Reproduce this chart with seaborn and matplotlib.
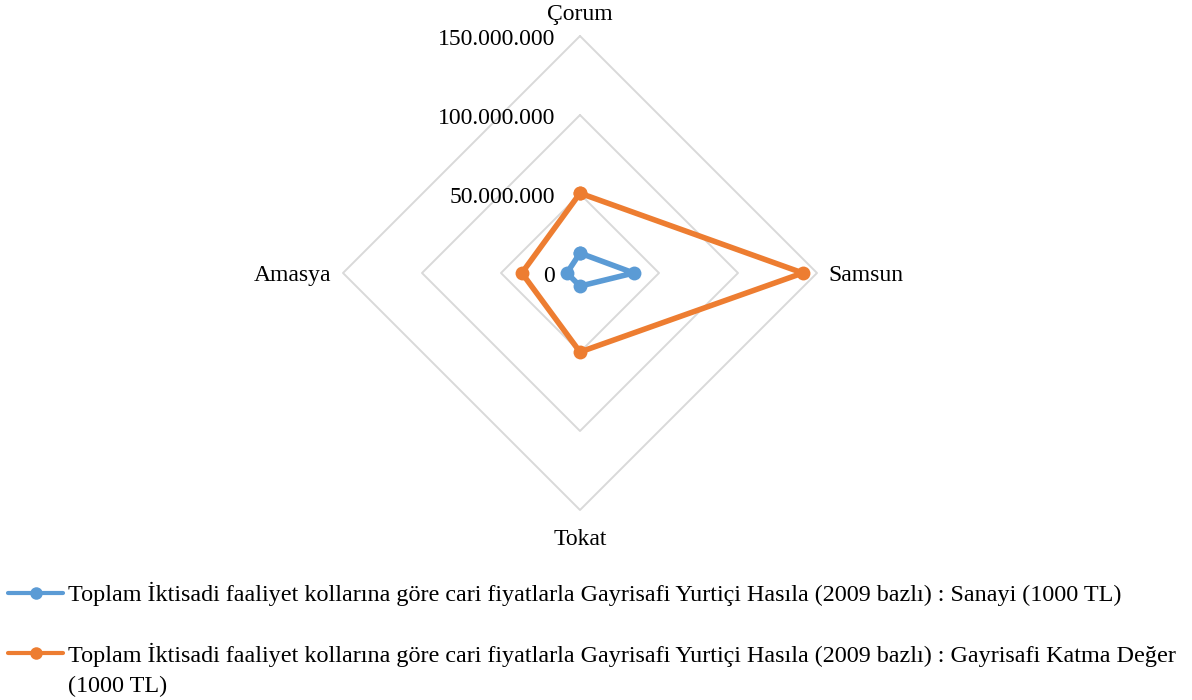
import numpy as np
import pandas as pd
import matplotlib.pyplot as plt
from matplotlib.lines import Line2D
import seaborn as sns

# ------------------- Data -------------------
categories = ["Çorum", "Samsun", "Tokat", "Amasya"]
sanayi = [12_600_000, 34_000_000, 8_300_000, 8_300_000]
katma_deger = [50_500_000, 141_000_000, 50_000_000, 36_800_000]
series_names = [
    "Toplam İktisadi faaliyet kollarına göre cari fiyatlarla Gayrisafi Yurtiçi Hasıla (2009 bazlı) : Sanayi (1000 TL)",
    "Toplam İktisadi faaliyet kollarına göre cari fiyatlarla Gayrisafi Yurtiçi Hasıla (2009 bazlı) : Gayrisafi Katma Değer (1000 TL)",
]
r_ticks = [0, 50_000_000, 100_000_000, 150_000_000]
r_tick_labels = ["0", "50.000.000", "100.000.000", "150.000.000"]
colors = ["#5B9BD5", "#ED7D31"]

# ------------------- Style -------------------
sns.set_style("white")
plt.rcParams["font.family"] = ["Liberation Serif", "DejaVu Serif"]
plt.rcParams["text.color"] = "black"
FS = 17
LEG_FS = 17.4

angles = np.linspace(0, 2 * np.pi, len(categories), endpoint=False)

rows = []
for name, vals in zip(series_names, [sanayi, katma_deger]):
    # close the polygon by repeating the first point
    for th, v in zip(np.append(angles, 2 * np.pi), vals + vals[:1]):
        rows.append({"series": name, "theta": th, "value": v})
df = pd.DataFrame(rows)

fig = plt.figure(figsize=(11.92, 7), dpi=100)
ax = fig.add_axes([343 / 1192, 190 / 700, 474 / 1192, 474 / 700], projection="polar")
ax.set_theta_zero_location("N")
ax.set_theta_direction(-1)
ax.set_ylim(0, r_ticks[-1])

# diamond gridlines
for r in r_ticks[1:]:
    ax.plot(np.append(angles, angles[0]), [r] * (len(angles) + 1),
            color="#D9D9D9", lw=1.4, zorder=1, clip_on=False)

sns.lineplot(data=df, x="theta", y="value", hue="series", palette=colors,
             sort=False, estimator=None, marker="o", markersize=10,
             markeredgewidth=0, linewidth=4, legend=False, ax=ax, zorder=3)
for ln in ax.get_lines():
    ln.set_clip_on(False)

ax.grid(False)
ax.spines["polar"].set_visible(False)
ax.set_xticks([])
ax.set_yticks([])
ax.set_xlabel("")
ax.set_ylabel("")

# radial value labels
for r, lab in zip(r_ticks, r_tick_labels):
    ax.annotate(lab, (0, r), xytext=(-18, -2.2), textcoords="offset points",
                ha="right", va="center", fontsize=FS, color="black",
                annotation_clip=False)

# category labels
offsets = [((0, 15.5), "center"), ((8, -2), "left"), ((0, -21), "center"), ((-8.5, -2), "right")]
for th, cat, (off, ha) in zip(angles, categories, offsets):
    ax.annotate(cat, (th, r_ticks[-1]), xytext=off, textcoords="offset points",
                ha=ha, va="center", fontsize=FS, color="black",
                annotation_clip=False)

# legend
handles = [Line2D([], [], color=c, lw=3, marker="o", markersize=9, markeredgewidth=0)
           for c in colors]
leg_labels = [series_names[0], series_names[1].replace(" (1000 TL)", "")]
leg = fig.legend(handles, leg_labels, loc="upper left", bbox_to_anchor=(8 / 1192, 1 - 582 / 700),
                 frameon=False, fontsize=LEG_FS, handlelength=2.28, handletextpad=0.2,
                 labelspacing=1.5, borderpad=0, borderaxespad=0)
for t in leg.get_texts():
    t.set_color("black")
fig.text(68 / 1192, 1 - 686 / 700, "(1000 TL)", fontsize=LEG_FS, va="center", ha="left",
         color="black")

fig.savefig("out.png", dpi=100)
